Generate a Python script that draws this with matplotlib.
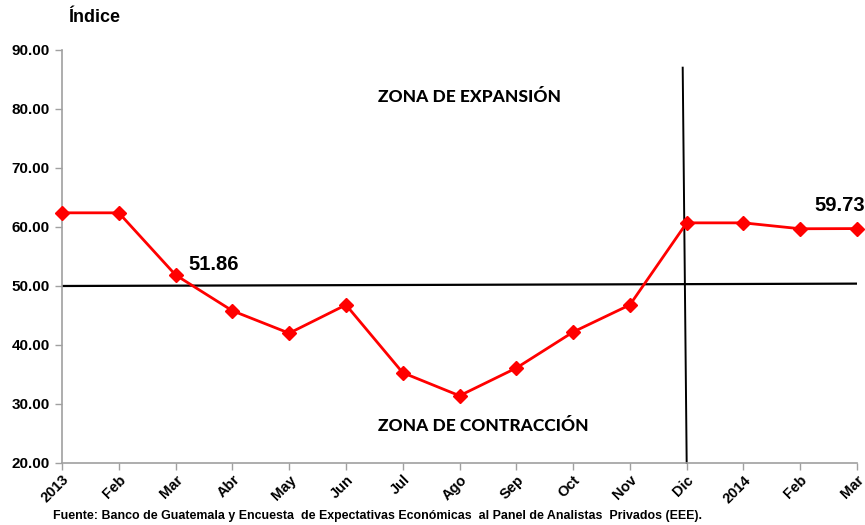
import matplotlib.pyplot as plt

# Índice de Confianza de la Actividad Económica
meses = ["2013", "Feb", "Mar", "Abr", "May", "Jun", "Jul", "Ago", "Sep",
         "Oct", "Nov", "Dic", "2014", "Feb", "Mar"]
indice = [62.4, 62.4, 51.86, 45.8, 42.0, 46.8, 35.3, 31.4, 36.1,
          42.2, 46.8, 60.7, 60.7, 59.7, 59.73]
umbral = 50.0
yticks = [20, 30, 40, 50, 60, 70, 80, 90]

plt.rcParams['font.family'] = ['Liberation Sans', 'DejaVu Sans']

fig = plt.figure(figsize=(8.65, 5.25), dpi=100)
ax = fig.add_axes([0.0717, 0.1181, 0.9191, 0.7867])

x = list(range(len(meses)))

# linea de 50 (frontera expansion / contraccion)
ax.plot([0, len(meses) - 1], [umbral, umbral + 0.4], color='black', lw=1.6, zorder=2)
# linea vertical separando 2013 / 2014
ax.plot([10.93, 11.0], [87, 20], color='black', lw=1.4, zorder=2, clip_on=False)

ax.plot(x, indice, color='#FF0000', lw=2.0, marker='D', markersize=7,
        zorder=3, clip_on=False)

ax.set_xlim(0, len(meses) - 1)
ax.set_ylim(20, 90)
ax.set_yticks(yticks)
ax.set_yticklabels(["%.2f" % v for v in yticks], fontsize=11, fontweight='bold')
ax.set_xticks(x)
ax.set_xticklabels(meses, rotation=45, ha='right', rotation_mode='anchor',
                   fontsize=10.5, fontweight='bold')

for s in ['top', 'right']:
    ax.spines[s].set_visible(False)
for s in ['left', 'bottom']:
    ax.spines[s].set_color('#A0A0A0')
    ax.spines[s].set_linewidth(1.2)
ax.tick_params(axis='both', color='#A0A0A0', length=5, width=1)
ax.tick_params(axis='y', pad=4)
ax.tick_params(axis='x', pad=2)

# etiquetas de valores
ax.text(2.22, 53.6, "%.2f" % indice[2], fontsize=14.5, fontweight='bold',
        ha='left', va='center')
ax.text(14.14, 63.7, "%.2f" % indice[-1], fontsize=14.5, fontweight='bold',
        ha='right', va='center')

# zonas
ax.text(7.18, 82.0, "ZONA DE EXPANSIÓN", fontsize=12.5, fontweight='black',
        family='Lato', ha='center', va='center')
ax.text(7.41, 26.3, "ZONA DE CONTRACCIÓN", fontsize=12.5, fontweight='black',
        family='Lato', ha='center', va='center')

fig.text(68 / 865, 1 - 18 / 525, "Índice", fontsize=13, fontweight='bold',
         ha='left', va='center')
fig.text(53 / 865, 1 - 516 / 525,
         "Fuente: Banco de Guatemala y Encuesta  de Expectativas Económicas  al Panel de Analistas  Privados (EEE).",
         fontsize=8.9, fontweight='bold', ha='left', va='center')

fig.savefig("out.png", dpi=100)
